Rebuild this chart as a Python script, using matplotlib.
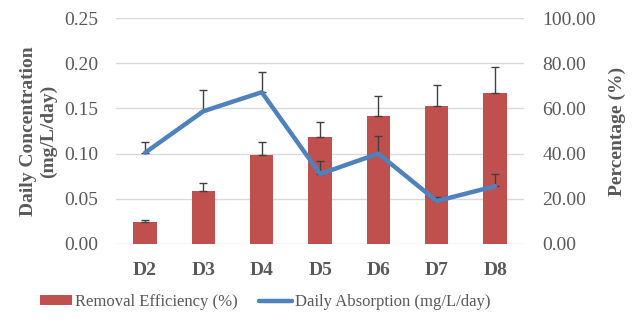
import numpy as np
import matplotlib.pyplot as plt

days = ["D2", "D3", "D4", "D5", "D6", "D7", "D8"]
removal_eff = [9.7, 23.5, 39.5, 47.2, 56.6, 61.1, 67.0]
removal_err = [0.9, 3.6, 5.5, 6.9, 9.0, 9.4, 11.3]
absorption = [0.101, 0.147, 0.168, 0.0775, 0.100, 0.0475, 0.064]
absorption_err = [0.0115, 0.023, 0.0225, 0.0145, 0.020, 0.0045, 0.014]

RED = "#C0504D"
BLUE = "#4F81BD"
GRAY = "#595959"

plt.rcParams["font.family"] = ["Liberation Serif", "DejaVu Serif"]

fig = plt.figure(figsize=(6.37, 3.24), dpi=100)
ax = fig.add_axes([0.182, 0.247, 0.641, 0.697])
ax2 = ax.twinx()

x = np.arange(len(days))

# bars on percentage axis
ax2.bar(x, removal_eff, width=0.4, color=RED, zorder=2, label="Removal Efficiency (%)")
ax2.errorbar(x, removal_eff, yerr=[np.zeros(len(x)), removal_err], fmt="none",
             ecolor="#404040", elinewidth=1.0, capsize=3, capthick=1.0, zorder=3)
ax2.set_ylim(0, 100)
ax2.set_yticks(np.arange(0, 101, 20))
ax2.set_yticklabels([f"{v:.2f}" for v in np.arange(0, 101, 20)])

# line on concentration axis, drawn on top
ax.set_zorder(ax2.get_zorder() + 1)
ax.patch.set_visible(False)
ax.plot(x, absorption, color=BLUE, lw=3.2, zorder=4, solid_capstyle="round",
        label="Daily Absorption (mg/L/day)")
ax.errorbar(x, absorption, yerr=[np.zeros(len(x)), absorption_err], fmt="none",
            ecolor="#404040", elinewidth=1.0, capsize=3, capthick=1.0, zorder=3)
ax.set_ylim(0, 0.25)
ax.set_yticks(np.arange(0, 0.251, 0.05))
ax.set_yticklabels([f"{v:.2f}" for v in np.arange(0, 0.251, 0.05)])
ax.set_xlim(-0.5, len(days) - 0.5)
ax.set_xticks(x)
ax.set_xticklabels(days, fontweight="bold", color=GRAY, fontsize=14)

# grid on the back axis
ax2.set_axisbelow(True)
ax2.yaxis.grid(True, color="#D9D9D9", lw=1.0, zorder=0)

for a in (ax, ax2):
    for s in a.spines.values():
        s.set_visible(False)
    a.tick_params(length=0, labelsize=14, labelcolor=GRAY)
ax.tick_params(axis="x", pad=13)
ax.tick_params(axis="y", pad=13)
ax2.tick_params(axis="y", pad=13)

ax.set_ylabel("Daily Concentration\n(mg/L/day)", fontsize=14, fontweight="bold",
              color=GRAY, linespacing=1.25)
ax.yaxis.set_label_coords(-0.144, 0.5)
ax2.set_ylabel("Percentage (%)", fontsize=14, fontweight="bold", color=GRAY)
ax2.yaxis.set_label_coords(1.207, 0.5)

h1, l1 = ax2.get_legend_handles_labels()
h2, l2 = ax.get_legend_handles_labels()
fig.legend(h1 + h2, l1 + l2, loc="center", bbox_to_anchor=(0.416, 0.068), ncol=2,
           frameon=False, fontsize=12, labelcolor=GRAY, handlelength=1.95,
           handleheight=0.55, handletextpad=0.2, columnspacing=1.25)

fig.savefig("out.png", dpi=100)
